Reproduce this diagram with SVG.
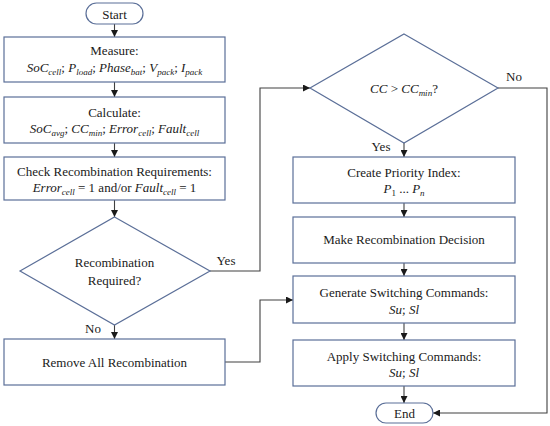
<svg xmlns="http://www.w3.org/2000/svg" width="550" height="426" viewBox="0 0 550 426" font-family="Liberation Serif, serif">
<style>
.s{fill:#fff;stroke:#5b6f98;stroke-width:1.2}
.c{fill:none;stroke:#404040;stroke-width:1.1}
.t{font-family:'Liberation Serif',serif;font-size:13px;fill:#1a1a1a;text-anchor:middle}
.i{font-style:italic}
.b{font-size:9px;font-style:italic}
</style>
<defs>
<marker id="a" viewBox="0 0 10 10" refX="10" refY="5" markerWidth="7" markerHeight="7" markerUnits="userSpaceOnUse" orient="auto">
<path d="M0,0L10,5L0,10z" fill="#1a1a1a"/>
</marker>
</defs>
<rect width="550" height="426" fill="#fff"/>
<g id="connectors">
<path class="c" d="M114.5,24V37" marker-end="url(#a)"/>
<path class="c" d="M114.5,82V97" marker-end="url(#a)"/>
<path class="c" d="M114.5,143V157" marker-end="url(#a)"/>
<path class="c" d="M114.5,200V217" marker-end="url(#a)"/>
<path class="c" d="M114.5,325V339" marker-end="url(#a)"/>
<path class="c" d="M210,271H260V88H310" marker-end="url(#a)"/>
<path class="c" d="M225,362H260V300H293" marker-end="url(#a)"/>
<path class="c" d="M404,143V157" marker-end="url(#a)"/>
<path class="c" d="M404,203V217" marker-end="url(#a)"/>
<path class="c" d="M404,263V276" marker-end="url(#a)"/>
<path class="c" d="M404,323V340" marker-end="url(#a)"/>
<path class="c" d="M404,386V403" marker-end="url(#a)"/>
<path class="c" d="M498,88H547V413H433" marker-end="url(#a)"/>
<text class="t" style="font-family:'Liberation Serif',serif" x="226" y="265">Yes</text>
<text class="t" style="font-family:'Liberation Serif',serif" x="93" y="333">No</text>
<text class="t" style="font-family:'Liberation Serif',serif" x="514" y="81">No</text>
<text class="t" style="font-family:'Liberation Serif',serif" x="381" y="151">Yes</text>
</g>
<g id="start">
<rect class="s" x="86" y="3" width="57" height="21" rx="10.5"/>
<text class="t" style="font-family:'Liberation Serif',serif" x="114.5" y="18.5">Start</text>
</g>
<g id="measure">
<rect class="s" x="4" y="37" width="221" height="45"/>
<text class="t" style="font-family:'Liberation Serif',serif" x="114.5" y="55">Measure:</text>
<text class="t" style="font-family:'Liberation Serif',serif" x="114.5" y="72"><tspan class="i">SoC</tspan><tspan class="b" dy="3">cell</tspan><tspan dy="-3">; </tspan><tspan class="i">P</tspan><tspan class="b" dy="3">load</tspan><tspan dy="-3">; </tspan><tspan class="i">Phase</tspan><tspan class="b" dy="3">bat</tspan><tspan dy="-3">; </tspan><tspan class="i">V</tspan><tspan class="b" dy="3">pack</tspan><tspan dy="-3">; </tspan><tspan class="i">I</tspan><tspan class="b" dy="3">pack</tspan></text>
</g>
<g id="calculate">
<rect class="s" x="4" y="97" width="221" height="46"/>
<text class="t" style="font-family:'Liberation Serif',serif" x="114.5" y="117">Calculate:</text>
<text class="t" style="font-family:'Liberation Serif',serif" x="114.5" y="133"><tspan class="i">SoC</tspan><tspan class="b" dy="3">avg</tspan><tspan dy="-3">; </tspan><tspan class="i">CC</tspan><tspan class="b" dy="3">min</tspan><tspan dy="-3">; </tspan><tspan class="i">Error</tspan><tspan class="b" dy="3">cell</tspan><tspan dy="-3">; </tspan><tspan class="i">Fault</tspan><tspan class="b" dy="3">cell</tspan></text>
</g>
<g id="check">
<rect class="s" x="4" y="157" width="221" height="43"/>
<text class="t" style="font-family:'Liberation Serif',serif" x="114.5" y="176">Check Recombination Requirements:</text>
<text class="t" style="font-family:'Liberation Serif',serif" x="114.5" y="192"><tspan class="i">Error</tspan><tspan class="b" dy="3">cell</tspan><tspan dy="-3"> = 1 and/or </tspan><tspan class="i">Fault</tspan><tspan class="b" dy="3">cell</tspan><tspan dy="-3"> = 1</tspan></text>
</g>
<g id="decision1">
<polygon class="s" points="114.5,217 210,271 114.5,325 20,271"/>
<text class="t" style="font-family:'Liberation Serif',serif" x="114.5" y="267">Recombination</text>
<text class="t" style="font-family:'Liberation Serif',serif" x="114.5" y="285">Required?</text>
</g>
<g id="remove">
<rect class="s" x="4" y="339" width="221" height="46"/>
<text class="t" style="font-family:'Liberation Serif',serif" x="114.5" y="367">Remove All Recombination</text>
</g>
<g id="decision2">
<polygon class="s" points="404,34 498,88 404,143 310,88"/>
<text class="t" style="font-family:'Liberation Serif',serif" x="404" y="93"><tspan class="i">CC</tspan> &gt; <tspan class="i">CC</tspan><tspan class="b" dy="3">min</tspan><tspan dy="-3">?</tspan></text>
</g>
<g id="priority">
<rect class="s" x="293" y="157" width="222" height="46"/>
<text class="t" style="font-family:'Liberation Serif',serif" x="404" y="177">Create Priority Index:</text>
<text class="t" style="font-family:'Liberation Serif',serif" x="404" y="193"><tspan class="i">P</tspan><tspan dy="3" font-size="9">1</tspan><tspan dy="-3"> ... </tspan><tspan class="i">P</tspan><tspan class="b" dy="3">n</tspan></text>
</g>
<g id="decision">
<rect class="s" x="293" y="217" width="222" height="46"/>
<text class="t" style="font-family:'Liberation Serif',serif" x="404" y="244">Make Recombination Decision</text>
</g>
<g id="generate">
<rect class="s" x="293" y="276" width="222" height="47"/>
<text class="t" style="font-family:'Liberation Serif',serif" x="404" y="297">Generate Switching Commands:</text>
<text class="t" style="font-family:'Liberation Serif',serif" x="404" y="314"><tspan class="i">Su</tspan>; <tspan class="i">Sl</tspan></text>
</g>
<g id="apply">
<rect class="s" x="293" y="340" width="222" height="46"/>
<text class="t" style="font-family:'Liberation Serif',serif" x="404" y="361">Apply Switching Commands:</text>
<text class="t" style="font-family:'Liberation Serif',serif" x="404" y="377"><tspan class="i">Su</tspan>; <tspan class="i">Sl</tspan></text>
</g>
<g id="end">
<rect class="s" x="376" y="403" width="57" height="20" rx="10"/>
<text class="t" style="font-family:'Liberation Serif',serif" x="404.5" y="417.5">End</text>
</g>
</svg>
